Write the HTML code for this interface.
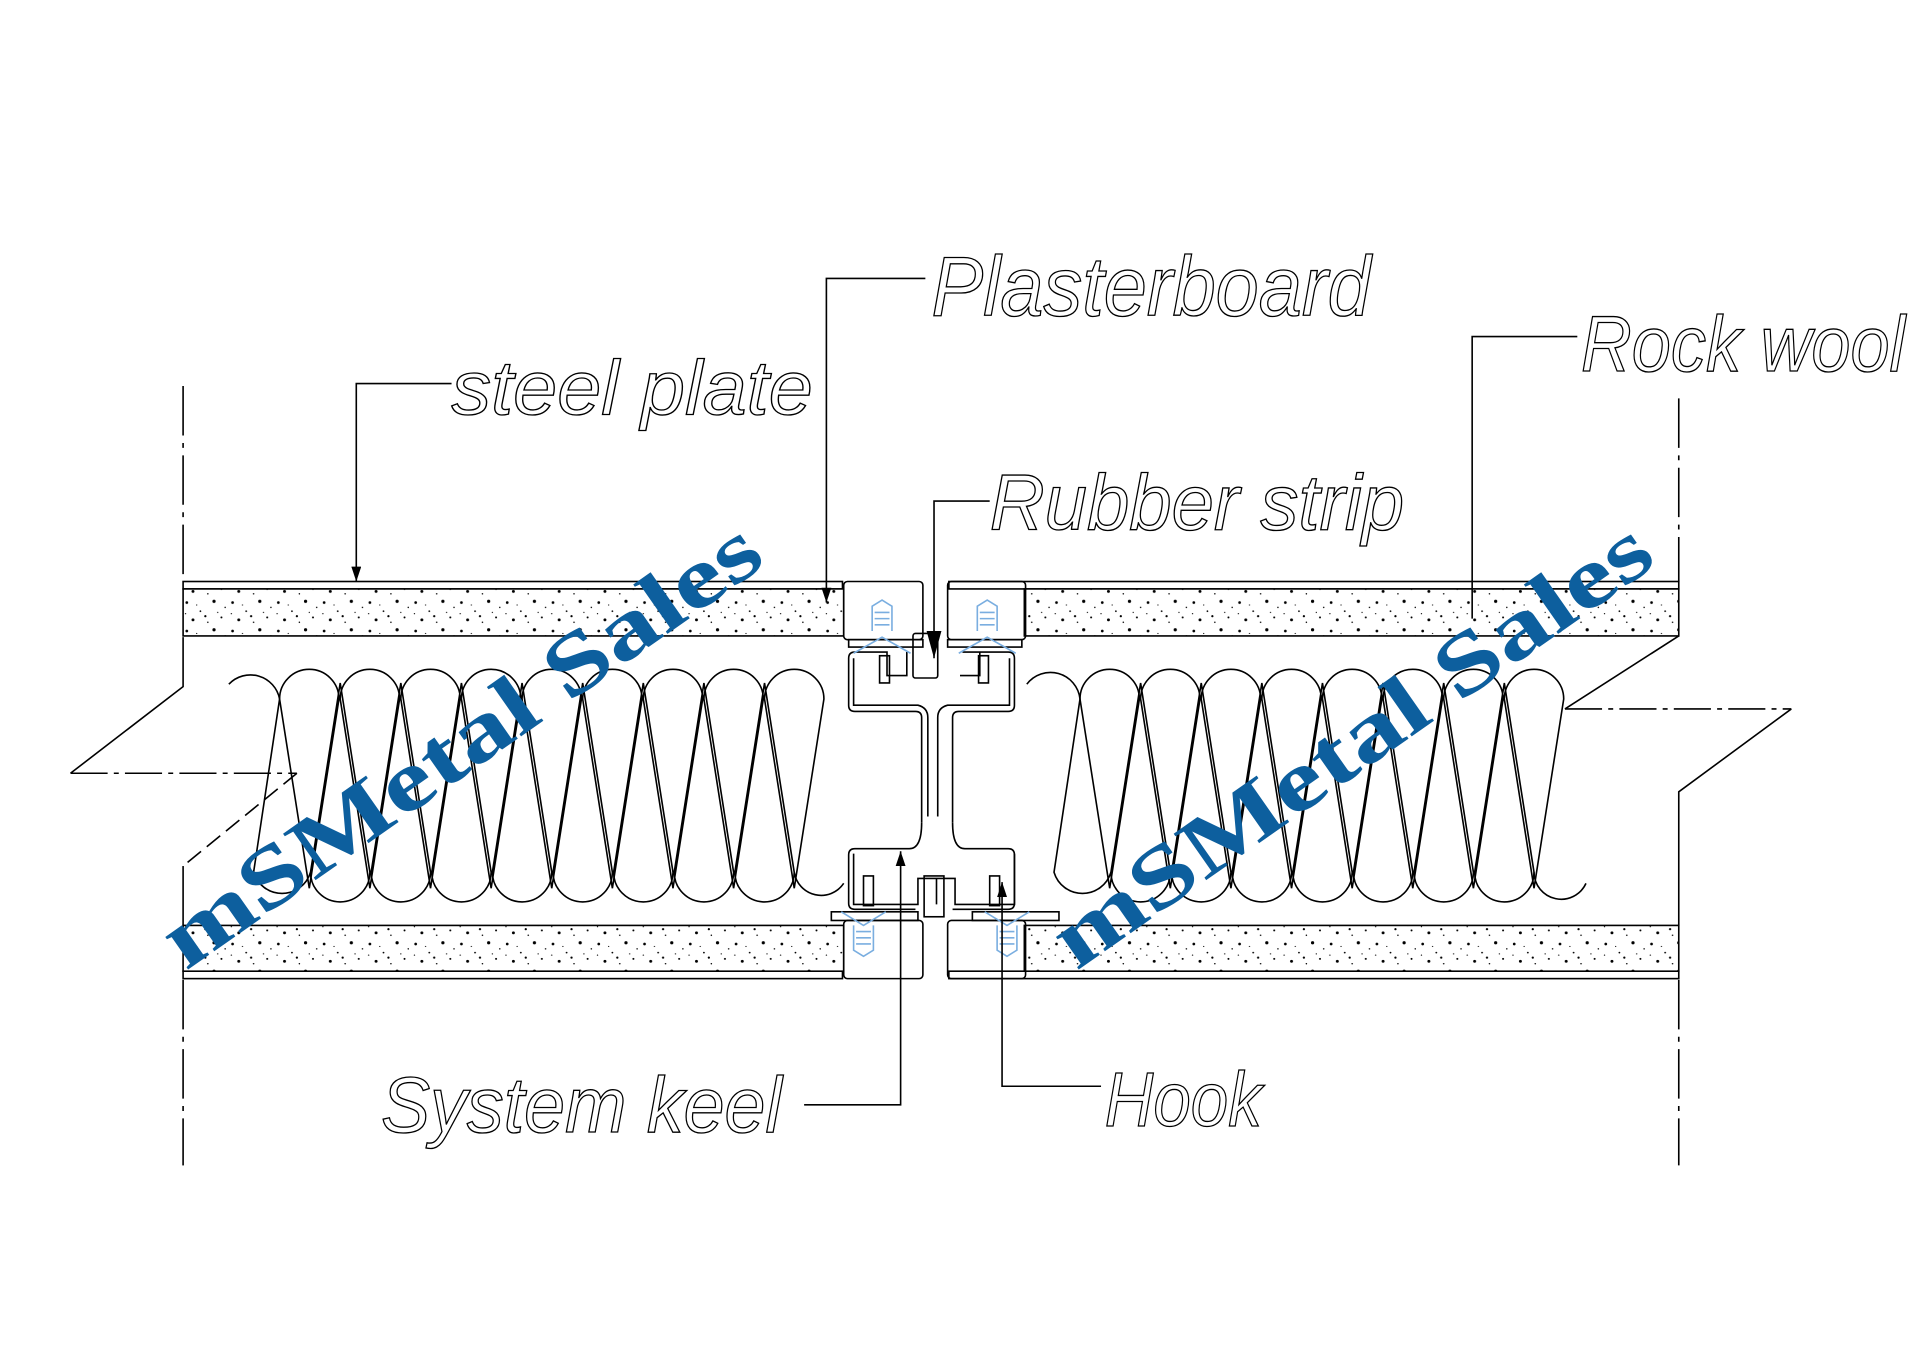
<!DOCTYPE html>
<html><head><meta charset="utf-8"><style>
html,body{margin:0;padding:0;background:#fff}
svg{display:block}
.t{font-family:"Liberation Sans",sans-serif;font-style:italic;font-weight:normal;fill:none;stroke:#000;stroke-width:1.1}
.wm{font-family:"Liberation Serif",serif;font-weight:bold;fill:#0d5f9e}
</style></head><body>
<svg width="1920" height="1356" viewBox="0 0 1552 1096" xmlns="http://www.w3.org/2000/svg">
<defs>
<pattern id="sp" width="37" height="23" patternUnits="userSpaceOnUse">
<rect width="37" height="23" fill="#fff"/>
<circle cx="3" cy="4" r="1.1"/><circle cx="14" cy="11" r="0.7"/><circle cx="25" cy="3" r="1.3"/>
<circle cx="31" cy="16" r="0.8"/><circle cx="8" cy="18" r="1.2"/><circle cx="20" cy="20" r="0.6"/>
<circle cx="34" cy="8" r="0.6"/><circle cx="11" cy="6" r="0.5"/><circle cx="28" cy="12" r="0.5"/>
<circle cx="18" cy="15" r="0.9"/><circle cx="2" cy="13" r="0.5"/>
</pattern>
<marker id="a" markerWidth="12" markerHeight="8" refX="12" refY="4" orient="auto" markerUnits="userSpaceOnUse"><path d="M0,0 L12,4 L0,8 Z" fill="#000"/></marker>
<marker id="b" markerWidth="22" markerHeight="12" refX="22" refY="6" orient="auto" markerUnits="userSpaceOnUse"><path d="M0,0 L22,6 L0,12 Z" fill="#000"/></marker>
</defs>
<g fill="none" stroke="#000" stroke-width="1.3">
<path d="M148,515 V555 L57,625" />
<path d="M57,625 H240" stroke-dasharray="30,5,4,5"/>
<path d="M240,625 L148,700" stroke-dasharray="14,6"/>
<path d="M148,700 V748"/>
<path d="M148,792 V942" stroke-dasharray="40,6,4,6"/>
<path d="M148,312 V470" stroke-dasharray="40,6,4,6"/>
<path d="M1357,322 V470 M1357,792 V942" stroke-dasharray="40,6,4,6"/>
<path d="M1357,514 L1265,573"/>
<path d="M1265,573 H1448" stroke-dasharray="30,5,4,5"/>
<path d="M1448,573 L1357,640 V748"/>
<rect x="148" y="470" width="533" height="6"/>
<rect x="767" y="470" width="590" height="6"/>
<rect x="148" y="785" width="533" height="6"/>
<rect x="767" y="785" width="590" height="6"/>
<rect x="148" y="476" width="534" height="38" fill="url(#sp)"/>
<rect x="828" y="476" width="529" height="38" fill="url(#sp)"/>
<rect x="148" y="748" width="534" height="37" fill="url(#sp)"/>
<rect x="828" y="748" width="529" height="37" fill="url(#sp)"/>
<rect x="682" y="470" width="64" height="47" rx="3"/>
<rect x="766" y="470" width="63" height="47" rx="3"/>
<rect x="682" y="744" width="64" height="47" rx="3"/>
<rect x="766" y="744" width="63" height="47" rx="3"/>
<rect x="686" y="517" width="60" height="6"/><rect x="766" y="517" width="60" height="6"/>
<rect x="672" y="737" width="70" height="7"/><rect x="786" y="737" width="70" height="7"/>
<path d="M691,527 H717 V546 H733 V527 M778,527 H792 V546 H776 M691,527 Q686,527 686,532 V570 Q686,575 691,575 H740 Q745,575 745,580 V665 M770,665 V580 Q770,575 775,575 H815 Q820,575 820,570 V532 Q820,527 815,527 H792"/>
<path d="M690,532 V570 H742 Q750,572 750,580 V660 M758,660 V580 Q758,572 766,570 H816 V532"/>
<path d="M745,665 Q745,686 735,686 H691 Q686,686 686,691 V730 Q686,735 691,735 H740 M770,665 Q770,686 780,686 H815 Q820,686 820,691 V730 Q820,735 815,735 H770"/>
<path d="M690,690 V731 H742 V710 H757 V731 M820,690 V731 H772 V710 H757"/>
<rect x="738" y="512" width="20" height="36" rx="2"/>
<rect x="747" y="708" width="16" height="33"/>
<rect x="711" y="530" width="8" height="22"/><rect x="791" y="530" width="8" height="22"/>
<rect x="698" y="708" width="8" height="24"/><rect x="800" y="708" width="8" height="24"/>
<path d="M226,565 A24,24 0 0 1 274,565 L250,718 Z M275,565 A24,24 0 0 1 323,565 L299,718 Z M324,565 A24,24 0 0 1 372,565 L348,718 Z M373,565 A24,24 0 0 1 421,565 L397,718 Z M422,565 A24,24 0 0 1 470,565 L446,718 Z M471,565 A24,24 0 0 1 519,565 L495,718 Z M520,565 A24,24 0 0 1 568,565 L544,718 Z M569,565 A24,24 0 0 1 617,565 L593,718 Z M618,565 A24,24 0 0 1 666,565 L642,718 Z" stroke-linejoin="bevel"/>
<path d="M251,705 A24,24 0 0 0 299,705 L275,552 Z M300,705 A24,24 0 0 0 348,705 L324,552 Z M349,705 A24,24 0 0 0 397,705 L373,552 Z M398,705 A24,24 0 0 0 446,705 L422,552 Z M447,705 A24,24 0 0 0 495,705 L471,552 Z M496,705 A24,24 0 0 0 544,705 L520,552 Z M545,705 A24,24 0 0 0 593,705 L569,552 Z M594,705 A24,24 0 0 0 642,705 L618,552 Z"/>
<path d="M185,553 A24,24 0 0 1 226,565 M642,705 A22,22 0 0 0 682,714 M226,565 L205,705 A24,24 0 0 0 251,705"/>
<path d="M873,565 A24,24 0 0 1 921,565 L897,718 Z M922,565 A24,24 0 0 1 970,565 L946,718 Z M971,565 A24,24 0 0 1 1019,565 L995,718 Z M1020,565 A24,24 0 0 1 1068,565 L1044,718 Z M1069,565 A24,24 0 0 1 1117,565 L1093,718 Z M1118,565 A24,24 0 0 1 1166,565 L1142,718 Z M1167,565 A24,24 0 0 1 1215,565 L1191,718 Z M1216,565 A24,24 0 0 1 1264,565 L1240,718 Z" stroke-linejoin="bevel"/>
<path d="M898,705 A24,24 0 0 0 946,705 L922,552 Z M947,705 A24,24 0 0 0 995,705 L971,552 Z M996,705 A24,24 0 0 0 1044,705 L1020,552 Z M1045,705 A24,24 0 0 0 1093,705 L1069,552 Z M1094,705 A24,24 0 0 0 1142,705 L1118,552 Z M1143,705 A24,24 0 0 0 1191,705 L1167,552 Z M1192,705 A24,24 0 0 0 1240,705 L1216,552 Z"/>
<path d="M830,553 A24,24 0 0 1 873,565 L852,705 A24,24 0 0 0 898,705 M1240,705 A22,22 0 0 0 1282,714"/>
</g>
<g fill="none" stroke="#7aaee0" stroke-width="1.3">
<path d="M705,510 V490 L713,485 L721,490 V510 M707,495 H719 M707,500 H719 M707,505 H719 M690,528 L713,515 L736,528"/>
<path d="M790,510 V490 L798,485 L806,490 V510 M792,495 H804 M792,500 H804 M792,505 H804 M775,528 L798,515 L821,528"/>
<path d="M690,748 V768 L698,773 L706,768 V748 M692,753 H704 M692,758 H704 M692,763 H704 M680,737 L698,748 L716,737"/>
<path d="M806,748 V768 L814,773 L822,768 V748 M808,753 H820 M808,758 H820 M808,763 H820 M796,737 L814,748 L832,737"/>
</g>
<g fill="none" stroke="#000" stroke-width="1.3">
<path d="M365,310 H288 V470" marker-end="url(#a)"/>
<path d="M748,225 H668 V487" marker-end="url(#a)"/>
<path d="M1275,272 H1190 V500"/>
<path d="M800,405 H755 V532" marker-end="url(#b)"/>
<path d="M650,893 H728 V688" marker-end="url(#a)"/>
<path d="M890,878 H810 V713" marker-end="url(#a)"/>
</g>
<g class="t">
<text x="753" y="255" font-size="68" textLength="355" lengthAdjust="spacingAndGlyphs">Plasterboard</text>
<text x="365" y="335" font-size="62" textLength="292" lengthAdjust="spacingAndGlyphs">steel plate</text>
<text x="1278" y="300" font-size="64" textLength="262" lengthAdjust="spacingAndGlyphs">Rock wool</text>
<text x="800" y="428" font-size="64" textLength="335" lengthAdjust="spacingAndGlyphs">Rubber strip</text>
<text x="308" y="915" font-size="64" textLength="324" lengthAdjust="spacingAndGlyphs">System keel</text>
<text x="893" y="910" font-size="62" textLength="127" lengthAdjust="spacingAndGlyphs">Hook</text>
</g>
<text class="wm" font-size="70" transform="translate(150,785) rotate(-35)" textLength="575" lengthAdjust="spacingAndGlyphs">mSMetal Sales</text>
<text class="wm" font-size="70" transform="translate(870,785) rotate(-35)" textLength="575" lengthAdjust="spacingAndGlyphs">mSMetal Sales</text>
</svg>
</body></html>
